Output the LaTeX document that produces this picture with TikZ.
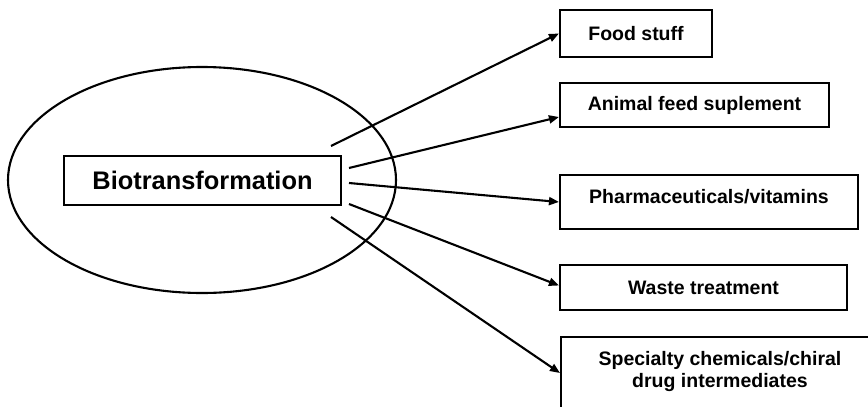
\documentclass[tikz,border=0pt]{standalone}
\usepackage{fontspec}
\setmainfont{Liberation Sans}
\usetikzlibrary{arrows.meta,calc,shapes.geometric}
\begin{document}
\begin{tikzpicture}[x=1pt,y=-1pt,
  outline/.style={line width=2.1pt},
  target/.style={draw,outline,inner sep=0pt,font=\bfseries\fontsize{19.5}{22}\selectfont,align=center},
  link/.style={line width=2.1pt,-{Triangle[length=10pt,width=8pt]}}]
\useasboundingbox (0,0) rectangle (868,407);

% central ellipse and source box
\node[draw,outline,ellipse,minimum width=388,minimum height=226,inner sep=0pt] (cloud) at (202,180) {};
\node[draw,outline,minimum width=277,minimum height=49,inner sep=0pt,font=\bfseries\fontsize{25.4}{28}\selectfont] (bio) at (202.5,180.5) {Biotransformation};

% application boxes
\node[target,minimum width=152,minimum height=47] (food) at (636,33.5) {Food stuff};
\node[target,minimum width=269,minimum height=44] (animal) at (694.5,105) {Animal feed suplement};
\node[target,minimum width=298,minimum height=54] (pharma) at (709,202) {\raisebox{0pt}[\height][\dimexpr\depth+10pt\relax]{Pharmaceuticals/vitamins}};
\node[target,minimum width=287,minimum height=45] (waste) at (703.5,287.5) {Waste treatment};
\node[target,minimum width=318,minimum height=74] (chem) at (720,374) {\raisebox{0pt}[\height][\dimexpr\depth+4pt\relax]{\begin{tabular}{@{}c@{}}Specialty chemicals/chiral\\drug intermediates\end{tabular}}};

% arrow start points around the source box
\coordinate (s1) at (331,146);
\coordinate (s2) at (349,168);
\coordinate (s3) at (349,183);
\coordinate (s4) at (349,204);
\coordinate (s5) at (331,217);

\draw[link] (s1) -- (food.west);
\draw[link] (s2) -- ($(animal.west)+(0,12)$);
\draw[link] (s3) -- (pharma.west);
\draw[link] (s4) -- ($(waste.west)+(0,-2)$);
\draw[link] (s5) -- ($(chem.west)+(0,-1)$);
\end{tikzpicture}
\end{document}
